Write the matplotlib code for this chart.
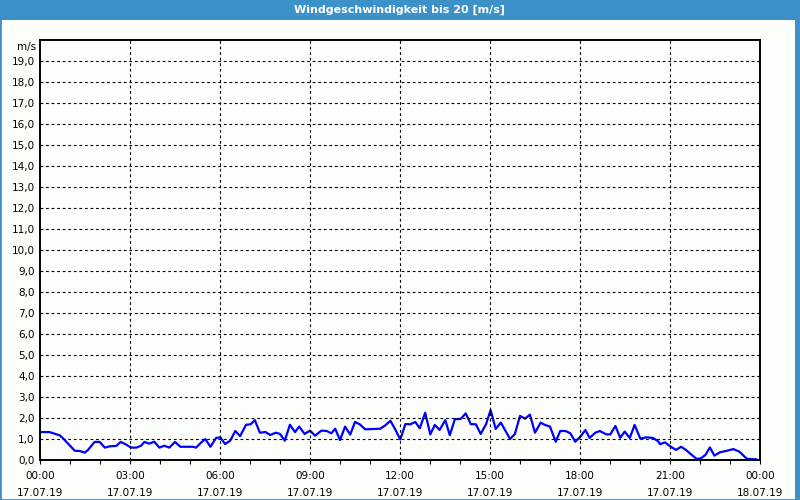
import matplotlib
matplotlib.use("Agg")
import matplotlib.pyplot as plt
from matplotlib.patches import Rectangle
from matplotlib.transforms import blended_transform_factory

# hours after 17.07.19 00:00
hours = [0.0, 0.32, 0.49, 0.66, 0.77, 1.16, 1.32, 1.49, 1.6, 1.82, 1.99, 2.16, 2.32, 2.54,
         2.69, 2.84, 3.04, 3.21, 3.37, 3.48, 3.64, 3.81, 3.98, 4.14, 4.31, 4.5, 4.68, 5.09,
         5.2, 5.37, 5.51, 5.68, 5.87, 6.01, 6.17, 6.34, 6.51, 6.67, 6.87, 7.02, 7.16, 7.33,
         7.52, 7.67, 7.86, 8.0, 8.16, 8.33, 8.5, 8.64, 8.82, 9.0, 9.17, 9.38, 9.56, 9.71,
         9.84, 10.0, 10.17, 10.34, 10.5, 10.66, 10.84, 11.34, 11.51, 11.68, 11.84, 12.01,
         12.18, 12.34, 12.51, 12.66, 12.84, 13.01, 13.16, 13.32, 13.51, 13.66, 13.83, 14.02,
         14.19, 14.36, 14.53, 14.69, 14.87, 15.02, 15.19, 15.36, 15.5, 15.67, 15.83, 16.0,
         16.17, 16.33, 16.5, 16.69, 16.83, 17.0, 17.19, 17.34, 17.52, 17.68, 17.84, 18.01,
         18.18, 18.32, 18.51, 18.66, 18.88, 19.01, 19.18, 19.34, 19.49, 19.66, 19.82, 20.01,
         20.21, 20.43, 20.6, 20.67, 20.83, 21.03, 21.2, 21.37, 21.53, 21.7, 21.89, 22.03,
         22.18, 22.33, 22.48, 22.67, 22.87, 23.11, 23.31, 23.56, 23.87]
speed = [1.33, 1.33, 1.25, 1.17, 1.03, 0.44, 0.43, 0.35, 0.48, 0.86, 0.86, 0.59, 0.65, 0.67,
         0.86, 0.76, 0.59, 0.59, 0.68, 0.86, 0.78, 0.87, 0.59, 0.68, 0.59, 0.86, 0.63, 0.63,
         0.59, 0.83, 1.0, 0.63, 1.05, 1.08, 0.76, 0.92, 1.38, 1.14, 1.68, 1.70, 1.90, 1.30,
         1.33, 1.19, 1.30, 1.24, 0.92, 1.68, 1.33, 1.59, 1.24, 1.40, 1.16, 1.40, 1.38, 1.27,
         1.49, 0.95, 1.59, 1.21, 1.81, 1.70, 1.46, 1.49, 1.65, 1.87, 1.46, 0.98,
         1.71, 1.70, 1.81, 1.51, 2.25, 1.22, 1.67, 1.43, 1.90, 1.18, 1.95, 1.95,
         2.22, 1.71, 1.70, 1.24, 1.71, 2.38, 1.48, 1.78, 1.43, 1.0, 1.24, 2.10,
         1.97, 2.16, 1.30, 1.78, 1.67, 1.59, 0.87, 1.38, 1.38, 1.27, 0.87, 1.11,
         1.43, 1.05, 1.30, 1.38, 1.22, 1.22, 1.62, 1.06, 1.35, 1.05, 1.67, 1.02,
         1.08, 1.05, 0.9, 0.75, 0.84, 0.63, 0.48, 0.63, 0.48, 0.27, 0.05, 0.08,
         0.24, 0.6, 0.21, 0.37, 0.43, 0.52, 0.40, 0.06, 0.03]

xticks = [0, 3, 6, 9, 12, 15, 18, 21, 24]
xlabels = ["00:00\n17.07.19", "03:00\n17.07.19", "06:00\n17.07.19", "09:00\n17.07.19",
           "12:00\n17.07.19", "15:00\n17.07.19", "18:00\n17.07.19", "21:00\n17.07.19",
           "00:00\n18.07.19"]
yticks = list(range(20))
ylabels = ["%d,0" % v for v in yticks]

title = "Windgeschwindigkeit bis 20 [m/s]"
blue_bar = "#3c91c8"

fig = plt.figure(figsize=(8, 5), dpi=100, facecolor="#fcfefc")

# frame and title bar
fig.patches.append(Rectangle((0, 0), 1, 1, transform=fig.transFigure, fill=False,
                             edgecolor=blue_bar, lw=2))
fig.patches.append(Rectangle((0.994, 0), 0.006, 1, transform=fig.transFigure,
                             facecolor=blue_bar, edgecolor="none"))
fig.patches.append(Rectangle((0, 0.96), 1, 0.04, transform=fig.transFigure,
                             facecolor=blue_bar, edgecolor="none"))
fig.text(0.5, 0.98, title, color="white", fontsize=8, fontweight="bold",
         ha="center", va="center")

ax = fig.add_axes([0.05, 0.08, 0.9, 0.84])
ax.set_facecolor("#fcfefc")
ax.plot(hours, speed, color="#0000ff", lw=1.6)

ax.set_xlim(0, 24)
ax.set_ylim(0, 20)
ax.set_xticks(xticks)
ax.set_xticklabels(xlabels, linespacing=1.9)
ax.set_xticks(range(25), minor=True)
ax.set_yticks(yticks)
ax.set_yticklabels(ylabels)

for v in yticks[1:]:
    ax.axhline(v, color="black", lw=0.8, dashes=(2.5, 2.5))
for v in xticks[1:-1]:
    ax.axvline(v, color="black", lw=0.8, dashes=(2.5, 2.5))

ax.tick_params(axis="y", length=0, pad=4, labelsize=7.5)
ax.tick_params(axis="x", which="both", length=3, width=0.8, direction="out",
               pad=5, labelsize=7.5)
for s in ax.spines.values():
    s.set_linewidth(1.4)

tr = blended_transform_factory(ax.transAxes, ax.transData)
ax.text(-0.0055, 19.9, "m/s", transform=tr, ha="right", va="top", fontsize=7.5)

fig.savefig("out.png", dpi=100, facecolor=fig.get_facecolor())
